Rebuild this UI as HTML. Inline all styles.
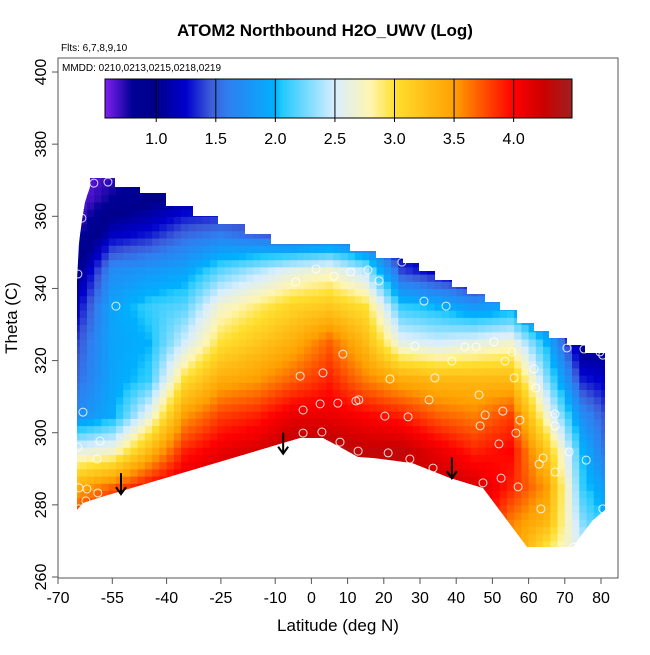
<!DOCTYPE html>
<html><head><meta charset="utf-8">
<style>
html,body{margin:0;padding:0;background:#fff;}
svg text{font-family:"Liberation Sans",sans-serif;}
</style></head>
<body>
<svg id="chart" width="650" height="650" viewBox="0 0 650 650" xmlns="http://www.w3.org/2000/svg">
<defs><clipPath id="shapeClip"><polygon id="clipPoly" points=""/></clipPath></defs>
<text x="325" y="36" text-anchor="middle" font-size="17" font-weight="bold">ATOM2 Northbound H2O_UWV (Log)</text>
<text x="61" y="51" font-size="10">Flts: 6,7,8,9,10</text>
<g id="heat" clip-path="url(#shapeClip)"></g>
<g id="points"></g>
<g id="arrows"></g>
<rect x="58" y="58" width="560" height="520" fill="none" stroke="#555" stroke-width="1"/>
<text x="62" y="71" font-size="10">MMDD: 0210,0213,0215,0218,0219</text>
<g id="cbar"></g>
<g id="xaxis"></g>
<g id="yaxis"></g>
<text x="338" y="631" text-anchor="middle" font-size="17">Latitude (deg N)</text>
<text transform="translate(17,318) rotate(-90)" text-anchor="middle" font-size="17">Theta (C)</text>
</svg>
<script>
// ---- data ----
const gridLats = [-65,-55,-45,-35,-25,-15,-5,5,15,25,35,45,55,65,75,82];
const gridThetas = [265,275,285,295,305,315,325,335,345,355,365,375];
const gridValues = [
 [null,4.0,3.4,2.6,1.7,1.5,1.4,1.2,0.95,0.7,0.6,0.58],
 [null,4.2,3.7,2.7,1.95,1.9,1.9,1.9,1.7,1.2,0.8,0.65],
 [null,4.3,4.0,3.3,2.6,2.1,2.0,2.1,1.8,1.3,0.95,0.8],
 [null,null,4.2,3.9,3.5,3.0,2.5,2.2,1.9,1.5,1.1,0.9],
 [null,null,4.3,4.1,3.8,3.4,3.0,2.7,2.2,1.6,1.1,1.0],
 [null,null,4.3,4.2,3.9,3.5,3.2,2.9,2.4,1.5,1.1,null],
 [null,null,null,4.4,4.1,3.7,3.4,3.1,2.6,1.4,1.0,null],
 [null,null,null,4.4,4.1,3.9,3.7,3.2,2.7,1.5,null,null],
 [null,null,null,4.3,4.0,3.6,3.3,3.0,2.4,1.3,null,null],
 [null,null,null,4.3,3.9,3.4,2.6,2.1,1.4,1.0,null,null],
 [null,null,4.3,4.1,3.7,3.3,2.5,2.0,1.2,null,null,null],
 [null,null,4.2,3.9,3.6,3.3,2.6,1.8,1.0,null,null,null],
 [null,3.6,3.9,4.0,3.8,3.3,2.7,1.9,1.3,null,null,null],
 [2.8,3.3,3.5,3.2,2.7,2.3,2.0,1.4,1.0,null,null,null],
 [2.6,2.3,2.1,2.0,1.7,1.3,0.95,null,null,null,null,null],
 [2.0,2.0,1.8,1.5,1.4,1.2,1.0,null,null,null,null,null]
];
const pointLats = [-60.1,-56.2,-63.4,-64.5,-54.0,-63.1,-58.4,-64.5,-59.2,-64.2,-62.0,-59.0,-62.3,-64.2,1.3,6.2,-4.3,8.7,-3.1,3.2,-2.3,2.4,7.3,-2.3,2.9,7.9,25.0,10.9,15.6,18.7,31.1,37.2,28.6,42.4,45.5,50.4,55.4,70.6,75.3,79.7,80.5,38.8,53.5,61.5,21.7,34.1,56.0,62.0,46.3,12.3,13.1,32.5,48.0,52.9,67.3,57.6,20.3,26.7,46.6,67.3,56.5,51.8,12.9,21.2,27.2,71.2,75.9,64.0,62.9,67.3,33.6,52.4,47.4,57.1,63.4,80.5,72.5];
const pointThetas = [369.2,369.5,359.5,344.0,335.1,305.7,297.7,296.0,292.7,284.7,284.4,283.3,281.1,278.9,345.4,343.4,341.8,321.8,315.7,316.6,306.3,308.0,308.2,299.9,300.2,297.4,347.3,344.6,345.1,342.1,336.5,335.1,324.0,323.8,323.8,325.2,322.4,323.5,323.2,322.4,321.5,319.9,319.9,317.7,314.9,315.2,315.2,312.4,310.5,308.8,309.1,309.1,304.9,306.0,305.2,303.5,304.6,304.4,301.9,301.9,299.9,296.9,294.9,294.4,292.7,294.7,292.4,293.0,291.3,289.1,290.2,287.4,286.1,285.0,278.9,278.9,268.3];
const arrowLats = [-52.6,-7.8,38.8];
const arrowThetas = [288.8,300.0,293.2];
const xTicks = [-70,-55,-40,-25,-10,0,10,20,30,40,50,60,70,80];
const yTicks = [260,280,300,320,340,360,380,400];
const cbarTicks = [1.0,1.5,2.0,2.5,3.0,3.5,4.0];

// ---- scales ----
const X = lat => 58 + (lat + 70) * 3.62;
const Y = th => 577 - (th - 260) * 3.607;
const CB0 = 0.57, CB1 = 4.49, CBX0 = 105, CBX1 = 572;
const CX = v => CBX0 + (v - CB0) / (CB1 - CB0) * (CBX1 - CBX0);
const NS = "http://www.w3.org/2000/svg";
function mk(tag, attrs, parent){const e=document.createElementNS(NS,tag);for(const k in attrs)e.setAttribute(k,attrs[k]);parent.appendChild(e);return e;}

const stops = [[0.57,[128,32,240]],[0.8,[0,0,150]],[1.0,[0,0,139]],[1.25,[0,0,205]],[1.45,[60,90,216]],[1.6,[47,127,240]],[2.0,[0,176,255]],[2.05,[32,200,255]],[2.5,[216,238,255]],[2.8,[255,245,176]],[3.0,[255,224,48]],[3.5,[255,160,0]],[3.8,[255,64,0]],[4.0,[255,0,0]],[4.25,[204,0,0]],[4.49,[160,32,32]]];
function col(v){
  if(v<=stops[0][0]) v=stops[0][0];
  if(v>=stops[stops.length-1][0]) v=stops[stops.length-1][0];
  for(let i=0;i<stops.length-1;i++){const a=stops[i],b=stops[i+1];
    if(v>=a[0]&&v<=b[0]){const t=(v-a[0])/(b[0]-a[0]);
      return 'rgb('+a[1].map((c,j)=>Math.round(c+(b[1][j]-c)*t)).join(',')+')';}}
}
const G = gridValues.map(r=>{const o=r.slice();
  for(let i=0;i<o.length;i++) if(o[i]==null){let d=1;while(true){if(i-d>=0&&r[i-d]!=null){o[i]=r[i-d];break;}if(i+d<r.length&&r[i+d]!=null){o[i]=r[i+d];break;}d++;}}
  return o;});
function idx(arr,v){let i=0;while(i<arr.length-2&&v>arr[i+1])i++;let t=(v-arr[i])/(arr[i+1]-arr[i]);t=Math.max(0,Math.min(1,t));return [i,t];}
function val(lat,th){const [i,tx]=idx(gridLats,lat);const [j,ty]=idx(gridThetas,th);
  const a=G[i][j],b=G[i+1][j],c=G[i][j+1],d=G[i+1][j+1];
  return (a*(1-tx)+b*tx)*(1-ty)+(c*(1-tx)+d*tx)*ty;}

const outline = [[77,510],[77,280],[79,243],[82,220],[85,202],[90,187],[90,178],[115,178],[115,187],[140,187],[140,193],[166,193],[166,206],[193,206],[193,216],[218,216],[218,224],[245,224],[245,234],[271,234],[271,244],[350,244],[350,251],[376,251],[376,258],[403,258],[403,263],[419,263],[419,271],[435,271],[435,280],[452,280],[452,287],[467,287],[467,294],[485,294],[485,302],[500,302],[500,310],[517,310],[517,323],[534,323],[534,331],[549,331],[549,338],[567,338],[567,345],[585,345],[585,353],[605,353],[605,510],[593,520],[583,533],[573,547],[527,547],[483,488],[450,478],[412,463],[373,458],[358,457],[340,447],[323,438],[300,438],[283,443],[98,498],[83,503]];
document.getElementById('clipPoly').setAttribute('points', outline.map(p=>p.join(',')).join(' '));

const heat=document.getElementById('heat');
for(let lat=-66;lat<82;lat+=2){
  for(let th=264;th<372;th+=2){
    const v=val(lat+1,th+1);
    const r=mk('rect',{x:X(lat).toFixed(2),y:Y(th+2).toFixed(2),width:(X(lat+2)-X(lat)+0.6).toFixed(2),height:(Y(th)-Y(th+2)+0.6).toFixed(2),fill:col(v)},heat);
    
    
  }
}
const pts=document.getElementById('points');
pointLats.forEach((la,i)=>{
  const c=mk('circle',{cx:X(la),cy:Y(pointThetas[i]),r:4,fill:'none',stroke:'#fff','stroke-width':1,opacity:0.85},pts);
  
  
});
const ar=document.getElementById('arrows');
arrowLats.forEach((la,i)=>{
  const x=X(la),y0=Y(arrowThetas[i]),y1=y0+21;
  const g=mk('path',{d:`M${x},${y0} L${x},${y1} M${x-5},${y1-7} L${x},${y1} L${x+5},${y1-7}`,stroke:'#000','stroke-width':2,fill:'none'},ar);
  
  
});
const cb=document.getElementById('cbar');
for(let px=CBX0;px<CBX1;px+=1){
  const v=CB0+(px+0.5-CBX0)/(CBX1-CBX0)*(CB1-CB0);
  const r=mk('rect',{x:px,y:79,width:1.3,height:39,fill:col(v)},cb);
  
  
}
const cbf=mk('rect',{x:CBX0,y:79,width:CBX1-CBX0,height:39,fill:'none',stroke:'#000','stroke-width':1},cb);


cbarTicks.forEach(t=>{
  const x=CX(t);
  const l=mk('line',{x1:x,y1:79,x2:x,y2:122,stroke:'#000','stroke-width':1},cb);
  
  
  const tx=mk('text',{x:x,y:144,'text-anchor':'middle','font-size':16},cb);
  tx.textContent=t.toFixed(1);
  
  
});
const xa=document.getElementById('xaxis');
xTicks.forEach(t=>{
  const x=X(t);
  const l=mk('line',{x1:x,y1:578,x2:x,y2:584,stroke:'#555'},xa);
  
  
  const tx=mk('text',{x:x,y:603,'text-anchor':'middle','font-size':16},xa);
  tx.textContent=t;
  
  
});
const ya=document.getElementById('yaxis');
yTicks.forEach(t=>{
  const y=Y(t);
  const l=mk('line',{x1:52,y1:y,x2:58,y2:y,stroke:'#555'},ya);
  
  
  const tx=mk('text',{transform:`translate(46,${y}) rotate(-90)`,'text-anchor':'middle','font-size':16},ya);
  tx.textContent=t;
  
  
});
</script>
</body></html>
